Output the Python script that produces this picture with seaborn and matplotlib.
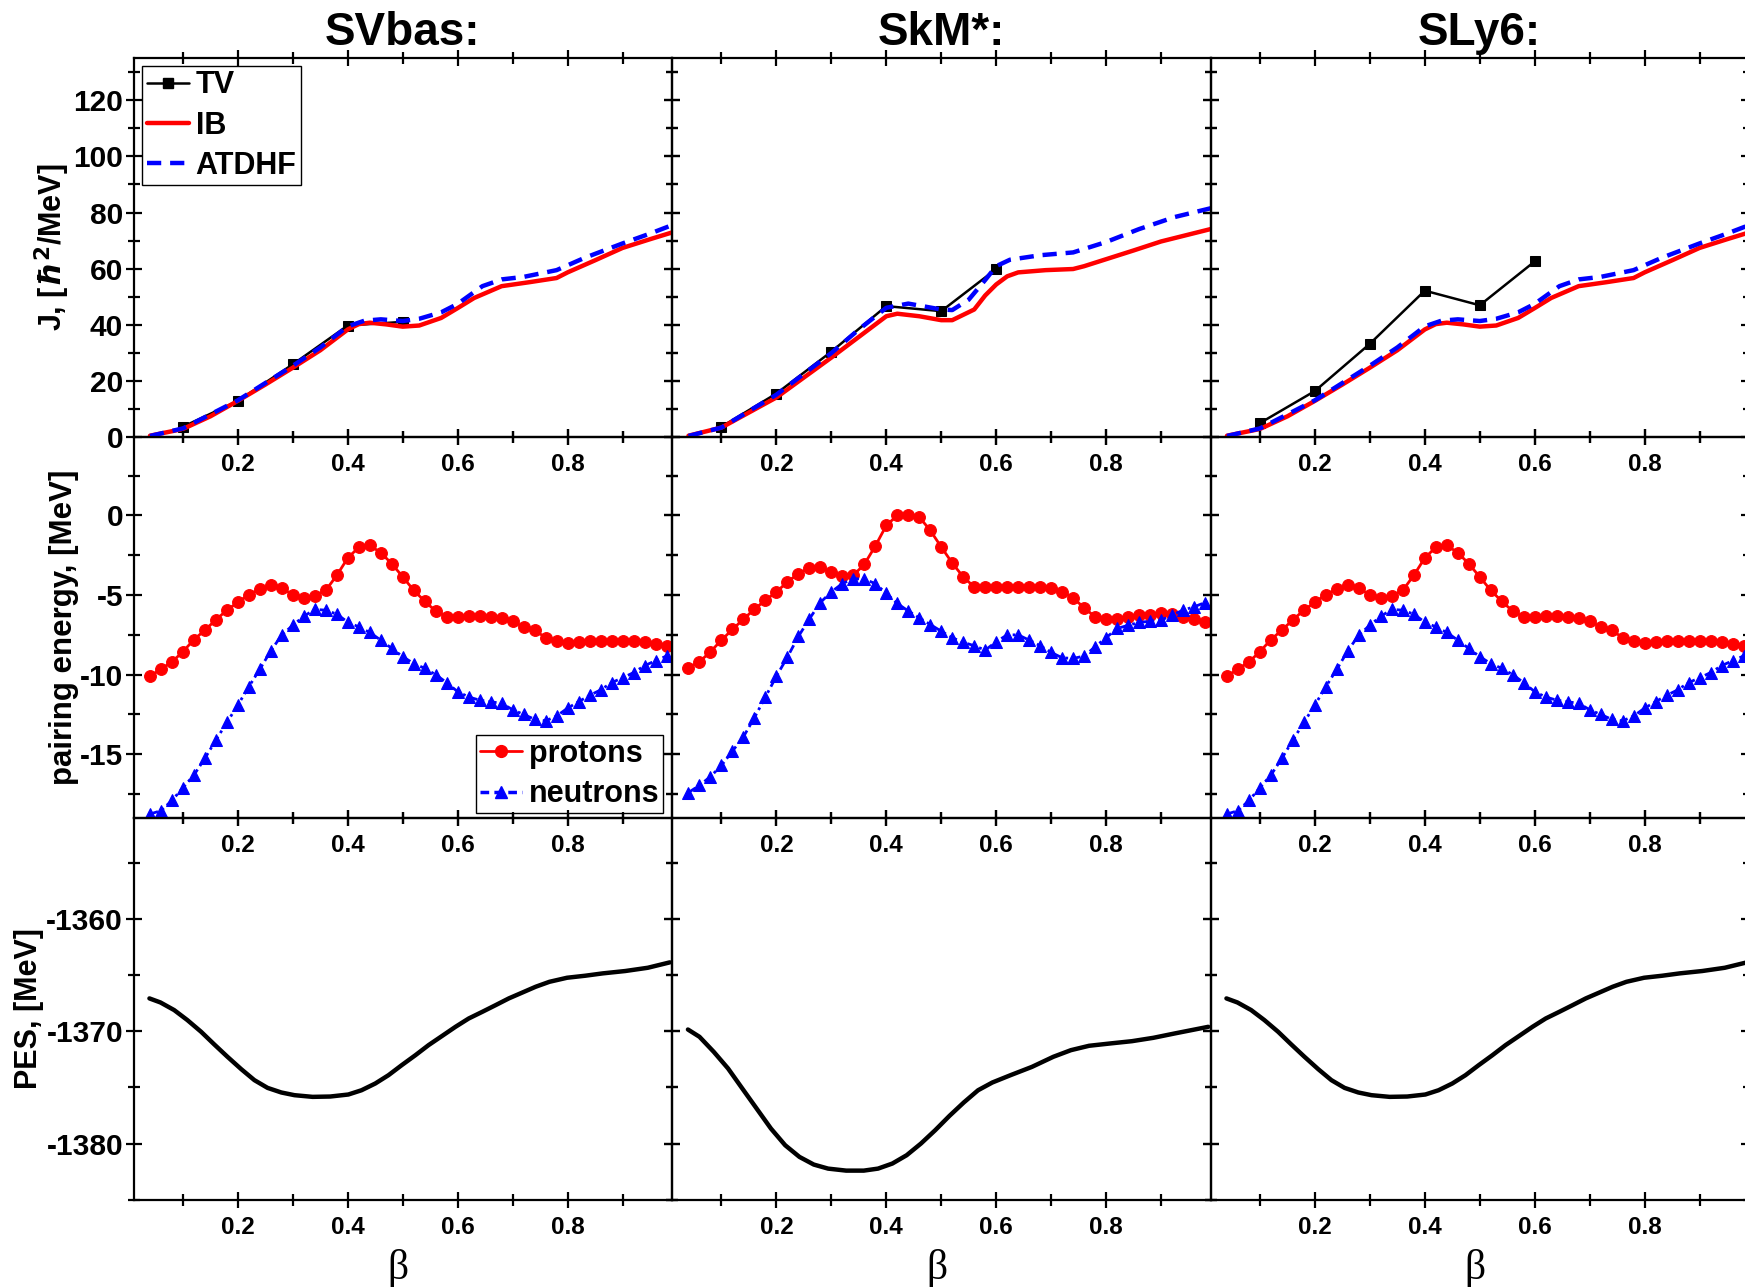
import numpy as np
import pandas as pd
import matplotlib
matplotlib.use("Agg")
import matplotlib.pyplot as plt
import seaborn as sns
from matplotlib.ticker import MultipleLocator
from matplotlib.lines import Line2D

# ---------------- data ----------------
forces = ["SVbas:", "SkM*:", "SLy6:"]

# moment of inertia J  [hbar^2/MeV]
tv_beta = [0.1, 0.2, 0.3, 0.4, 0.5, 0.6]
svbas_tv = [3.8, 13.0, 26.0, 39.8, 41.1]
skm_tv = [3.8, 15.6, 30.5, 46.7, 44.9, 59.9]
sly6_tv = [5.1, 16.5, 33.3, 52.2, 47.0, 62.6]

svbas_ib_beta = [0.04, 0.1, 0.15, 0.2, 0.25, 0.3, 0.35, 0.4, 0.42, 0.44, 0.47, 0.5, 0.53,
                 0.57, 0.6, 0.63, 0.68, 0.73, 0.78, 0.8, 0.85, 0.9, 0.95, 0.99]
svbas_ib = [0.6, 3.0, 7.5, 13.0, 18.8, 24.8, 31.0, 38.4, 40.3, 40.8, 40.2, 39.4, 39.8,
            42.5, 46.0, 49.6, 53.8, 55.2, 56.7, 58.7, 63.0, 67.4, 70.5, 72.9]
svbas_atdhf_beta = [0.04, 0.1, 0.2, 0.3, 0.35, 0.4, 0.43, 0.46, 0.5, 0.53, 0.57, 0.6, 0.645,
                    0.68, 0.72, 0.78, 0.83, 0.9, 0.95, 0.99]
svbas_atdhf = [0.5, 3.2, 13.2, 25.5, 32.0, 39.5, 41.5, 42.0, 41.4, 42.2, 44.5, 47.5, 53.8,
               56.2, 57.1, 59.5, 63.8, 69.0, 72.5, 75.5]

skm_ib_beta = [0.04, 0.1, 0.2, 0.3, 0.4, 0.42, 0.46, 0.5, 0.52, 0.56, 0.58, 0.6, 0.62, 0.64,
               0.69, 0.74, 0.76, 0.85, 0.9, 0.99]
skm_ib = [0.6, 3.5, 14.2, 28.4, 43.1, 44.0, 43.1, 41.7, 41.7, 45.5, 50.5, 54.4, 57.3, 58.7,
          59.5, 59.9, 60.9, 66.5, 69.7, 74.1]
skm_atdhf_beta = [0.04, 0.1, 0.2, 0.3, 0.35, 0.4, 0.44, 0.5, 0.52, 0.55, 0.58, 0.6, 0.625,
                  0.68, 0.74, 0.8, 0.86, 0.925, 0.99]
skm_atdhf = [0.5, 3.5, 15.2, 30.0, 38.4, 46.1, 47.6, 45.5, 45.3, 49.0, 56.0, 60.9, 63.2,
             64.8, 65.8, 69.5, 74.1, 78.4, 81.5]

sly6_ib_beta = svbas_ib_beta
sly6_ib = svbas_ib
sly6_atdhf_beta = svbas_atdhf_beta
sly6_atdhf = svbas_atdhf

# pairing energies [MeV]
pair_beta = [0.04, 0.06, 0.08, 0.10, 0.12, 0.14, 0.16, 0.18, 0.20, 0.22, 0.24, 0.26,
             0.28, 0.30, 0.32, 0.34, 0.36, 0.38, 0.40, 0.42, 0.44, 0.46, 0.48, 0.50,
             0.52, 0.54, 0.56, 0.58, 0.60, 0.62, 0.64, 0.66, 0.68, 0.70, 0.72, 0.74,
             0.76, 0.78, 0.80, 0.82, 0.84, 0.86, 0.88, 0.90, 0.92, 0.94, 0.96, 0.98]
svbas_prot = [-10.1, -9.65, -9.2, -8.55, -7.8, -7.2, -6.55, -5.95, -5.45, -4.97, -4.63, -4.38,
              -4.55, -5.0, -5.2, -5.05, -4.7, -3.76, -2.67, -2.0, -1.88, -2.34, -3.03, -3.86,
              -4.7, -5.39, -6.01, -6.37, -6.37, -6.33, -6.3, -6.37, -6.47, -6.64, -7.0, -7.2,
              -7.68, -7.9, -8.04, -7.97, -7.9, -7.9, -7.9, -7.9, -7.9, -7.97, -8.08, -8.18]
svbas_neut = [-18.75, -18.54, -17.9, -17.1, -16.3, -15.25, -14.1, -13.0, -11.9, -10.75, -9.65,
              -8.5, -7.5, -6.9, -6.33, -5.9, -5.95, -6.2, -6.7, -7.0, -7.35, -7.83, -8.35,
              -8.87, -9.3, -9.6, -10.0, -10.5, -11.07, -11.4, -11.6, -11.7, -11.8, -12.2,
              -12.5, -12.8, -12.9, -12.6, -12.1, -11.7, -11.3, -10.96, -10.5, -10.2, -9.87,
              -9.44, -9.12, -8.83]
skm_prot = [-9.56, -9.19, -8.56, -7.83, -7.16, -6.51, -5.89, -5.32, -4.8, -4.18, -3.65, -3.3,
            -3.26, -3.55, -3.8, -3.76, -3.07, -1.92, -0.63, 0.0, 0.0, -0.1, -0.94, -1.98,
            -2.99, -3.86, -4.49, -4.49, -4.49, -4.49, -4.49, -4.49, -4.49, -4.55, -4.8, -5.18,
            -5.8, -6.37, -6.51, -6.51, -6.39, -6.26, -6.26, -6.1, -6.22, -6.37, -6.51, -6.68]
skm_neut = [-17.4, -16.95, -16.4, -15.7, -14.8, -13.9, -12.7, -11.4, -10.1, -8.9, -7.6, -6.5,
            -5.47, -4.8, -4.28, -3.97, -4.0, -4.28, -4.9, -5.53, -6.0, -6.43, -6.85, -7.27,
            -7.68, -7.97, -8.18, -8.46, -7.93, -7.5, -7.5, -7.83, -8.18, -8.6, -8.94, -8.98,
            -8.83, -8.25, -7.68, -7.1, -6.9, -6.72, -6.64, -6.58, -6.26, -5.95, -5.74, -5.47]
sly6_prot = svbas_prot
sly6_neut = svbas_neut

# potential energy surface [MeV]
svbas_pes_beta = [0.039, 0.059, 0.084, 0.108, 0.133, 0.157, 0.181, 0.206, 0.230, 0.254,
                  0.279, 0.303, 0.336, 0.368, 0.401, 0.425, 0.450, 0.474, 0.498, 0.523,
                  0.547, 0.572, 0.596, 0.620, 0.645, 0.669, 0.693, 0.718, 0.742, 0.767,
                  0.799, 0.832, 0.864, 0.905, 0.946, 0.986]
svbas_pes = [-1367.07, -1367.43, -1368.11, -1369.0, -1370.04, -1371.17, -1372.27, -1373.37,
             -1374.35, -1375.04, -1375.45, -1375.69, -1375.84, -1375.81, -1375.63, -1375.25,
             -1374.65, -1373.91, -1373.02, -1372.13, -1371.23, -1370.4, -1369.6, -1368.86,
             -1368.26, -1367.67, -1367.07, -1366.54, -1366.03, -1365.59, -1365.23, -1365.05,
             -1364.84, -1364.63, -1364.34, -1363.86]
skm_pes_beta = [0.039, 0.06, 0.086, 0.112, 0.138, 0.164, 0.19, 0.216, 0.242, 0.268, 0.294,
                0.327, 0.359, 0.385, 0.411, 0.437, 0.463, 0.489, 0.515, 0.541, 0.567, 0.593,
                0.626, 0.665, 0.704, 0.736, 0.769, 0.808, 0.847, 0.886, 0.925, 0.986]
skm_pes = [-1369.84, -1370.49, -1371.83, -1373.31, -1375.1, -1376.88, -1378.66, -1380.15,
           -1381.19, -1381.87, -1382.23, -1382.41, -1382.41, -1382.23, -1381.78, -1381.04,
           -1380.0, -1378.81, -1377.53, -1376.34, -1375.25, -1374.56, -1373.91, -1373.17,
           -1372.27, -1371.68, -1371.29, -1371.08, -1370.88, -1370.58, -1370.19, -1369.6]
sly6_pes_beta = svbas_pes_beta
sly6_pes = svbas_pes

J_DATA = [
    (svbas_tv, svbas_ib_beta, svbas_ib, svbas_atdhf_beta, svbas_atdhf),
    (skm_tv, skm_ib_beta, skm_ib, skm_atdhf_beta, skm_atdhf),
    (sly6_tv, sly6_ib_beta, sly6_ib, sly6_atdhf_beta, sly6_atdhf),
]
PAIR_DATA = [(svbas_prot, svbas_neut), (skm_prot, skm_neut), (sly6_prot, sly6_neut)]
PES_DATA = [(svbas_pes_beta, svbas_pes), (skm_pes_beta, skm_pes), (sly6_pes_beta, sly6_pes)]

# ---------------- style ----------------
sns.set_theme(style="ticks")
plt.rcParams["font.family"] = ["Liberation Sans", "DejaVu Sans"]
plt.rcParams["font.weight"] = "bold"
plt.rcParams["axes.labelweight"] = "bold"
plt.rcParams["mathtext.fontset"] = "dejavusans"
plt.rcParams["axes.unicode_minus"] = False
for k in ["text.color", "axes.labelcolor", "xtick.color", "ytick.color", "axes.edgecolor"]:
    plt.rcParams[k] = "black"
plt.rcParams["axes.linewidth"] = 1.6

W, H = 1745, 1287
fig = plt.figure(figsize=(W / 100, H / 100), dpi=100)

col_left = [133.5, 672.0, 1210.5]
col_w = 538.5
row_top = [57.9, 437.4, 818.0]
row_h = [379.5, 380.6, 381.7]

RED = "#ff0000"
BLUE = "#0000ff"

axes = [[None] * 3 for _ in range(3)]
for r in range(3):
    for c in range(3):
        ax = fig.add_axes([col_left[c] / W, 1 - (row_top[r] + row_h[r]) / H,
                           col_w / W, row_h[r] / H])
        ax.set_facecolor("none")
        axes[r][c] = ax


def style_axis(ax, ymaj, ymin, ylim, show_ylabels):
    ax.set_xlim(0.01, 0.99)
    ax.set_ylim(*ylim)
    ax.xaxis.set_major_locator(MultipleLocator(0.2))
    ax.xaxis.set_minor_locator(MultipleLocator(0.1))
    ax.yaxis.set_major_locator(MultipleLocator(ymaj))
    ax.yaxis.set_minor_locator(MultipleLocator(ymin))
    ax.tick_params(which="both", direction="inout", top=True, right=True,
                   color="black", width=1.6, labelcolor="black")
    ax.tick_params(which="major", length=11)
    ax.tick_params(which="minor", length=8)
    ax.tick_params(axis="x", labelsize=17.5, pad=6)
    ax.tick_params(axis="y", labelsize=21.5, pad=2)
    if not show_ylabels:
        ax.tick_params(labelleft=False)
    for lbl in ax.get_xticklabels() + ax.get_yticklabels():
        lbl.set_fontweight("bold")
    for s in ax.spines.values():
        s.set_visible(True)
        s.set_color("black")
        s.set_linewidth(1.6)
    ax.set_xlabel("")
    ax.set_ylabel("")


for c in range(3):
    tv, ib_b, ib, at_b, at = J_DATA[c]
    ax = axes[0][c]
    sns.lineplot(x=ib_b, y=ib, ax=ax, color=RED, linewidth=3.2, legend=False,
                 errorbar=None, zorder=3)
    sns.lineplot(x=at_b, y=at, ax=ax, color=BLUE, linewidth=3.2, legend=False,
                 errorbar=None, linestyle=(0, (3.2, 2.0)), zorder=4)
    sns.lineplot(x=tv_beta[:len(tv)], y=tv, ax=ax, color="black", linewidth=1.8,
                 marker="s", markersize=7, markeredgecolor="black", legend=False,
                 errorbar=None, zorder=2)
    style_axis(ax, 20, 10, (0, 135), c == 0)

    prot, neut = PAIR_DATA[c]
    ax = axes[1][c]
    sns.lineplot(x=pair_beta, y=prot, ax=ax, color=RED, linewidth=2, marker="o",
                 markersize=8.5, markeredgecolor=RED, legend=False, errorbar=None, zorder=3)
    sns.lineplot(x=pair_beta, y=neut, ax=ax, color=BLUE, linewidth=2, marker="^",
                 markersize=9, markeredgecolor=BLUE, linestyle=(0, (3, 1.5, 1, 1.5)),
                 legend=False, errorbar=None, zorder=3)
    style_axis(ax, 5, 2.5, (-19, 4.9), c == 0)

    pb, pes = PES_DATA[c]
    ax = axes[2][c]
    sns.lineplot(x=pb, y=pes, ax=ax, color="black", linewidth=3.2, legend=False,
                 errorbar=None)
    style_axis(ax, 10, 5, (-1385, -1351), c == 0)

# y labels
axes[0][0].set_ylabel(r"J, [$\hbar^{2}$/MeV]", fontsize=22, fontweight="bold")
axes[0][0].yaxis.set_label_coords(-0.115, 0.5)
axes[1][0].set_ylabel("pairing energy, [MeV]", fontsize=22.5, fontweight="bold")
axes[1][0].yaxis.set_label_coords(-0.102, 0.5)
axes[2][0].set_ylabel("PES, [MeV]", fontsize=22, fontweight="bold")
axes[2][0].yaxis.set_label_coords(-0.167, 0.5)

# titles and beta labels
for c in range(3):
    xc = (col_left[c] + col_w / 2) / W
    fig.text(xc, 1 - 33 / H, forces[c], ha="center", va="center", fontsize=33,
             fontweight="bold")
    fig.text(xc - 4.5 / W, 1 - 1269 / H, "β", ha="center", va="center", fontsize=30,
             fontweight="normal", family=["Liberation Serif", "DejaVu Serif"])

# legends
h1 = [Line2D([], [], color="black", lw=1.8, marker="s", markersize=7),
      Line2D([], [], color=RED, lw=3.2),
      Line2D([], [], color=BLUE, lw=3.2, linestyle=(0, (3.2, 2.0)))]
leg1 = axes[0][0].legend(h1, ["TV", "IB", "ATDHF"], loc="upper left",
                         bbox_to_anchor=(0.016, 0.979), borderaxespad=0,
                         prop={"size": 22, "weight": "bold"}, frameon=True, fancybox=False,
                         edgecolor="black", framealpha=1, handlelength=1.4,
                         handletextpad=0.2, labelspacing=0.33, borderpad=0.15)
leg1.get_frame().set_linewidth(1.0)

h2 = [Line2D([], [], color=RED, lw=2, marker="o", markersize=8.5),
      Line2D([], [], color=BLUE, lw=2.5, marker="^", markersize=9, linestyle=(0, (2.5, 1.5)))]
leg2 = axes[1][0].legend(h2, ["protons", "neutrons"], loc="lower right",
                         bbox_to_anchor=(0.983, 0.013), borderaxespad=0,
                         prop={"size": 22, "weight": "bold"}, frameon=True, fancybox=False,
                         edgecolor="black", framealpha=1, handlelength=1.4,
                         handletextpad=0.2, labelspacing=0.35, borderpad=0.12)
leg2.get_frame().set_linewidth(1.0)

fig.savefig("out.png", dpi=100, facecolor="white")
